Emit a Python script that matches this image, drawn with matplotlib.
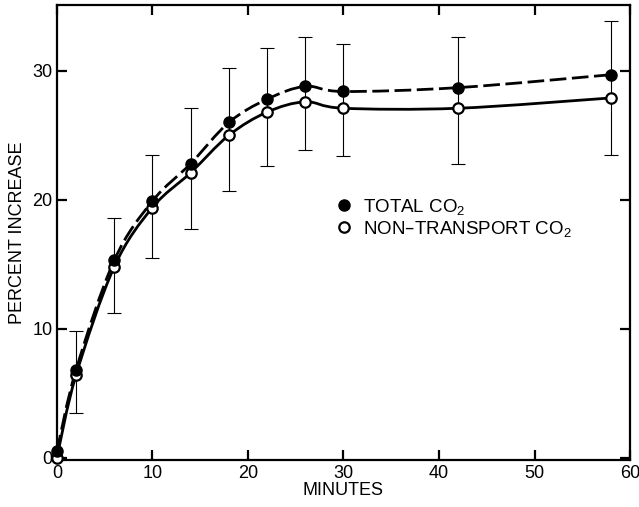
import matplotlib
matplotlib.use("Agg")
from matplotlib import pyplot as plt
from matplotlib.path import Path
from matplotlib.patches import PathPatch
import numpy as np

plt.rcParams["font.family"] = ["Liberation Sans", "DejaVu Sans"]
plt.rcParams["mathtext.default"] = "regular"

# sampling times (minutes)
minutes = [0, 2, 6, 10, 14, 18, 22, 26, 30, 42, 58]

# percent increase
total_co2 = [0.5, 6.8, 15.3, 19.9, 22.8, 26.0, 27.8, 28.8, 28.4, 28.7, 29.7]
non_transport_co2 = [0.0, 6.4, 14.8, 19.4, 22.1, 25.0, 26.8, 27.6, 27.1, 27.1, 27.9]

# error bar extents at each time after zero
err_minutes = [2, 6, 10, 14, 18, 22, 26, 30, 42, 58]
err_low = [3.5, 11.2, 15.5, 17.7, 20.7, 22.6, 23.9, 23.4, 22.8, 23.5]
err_high = [9.8, 18.6, 23.5, 27.1, 30.2, 31.8, 32.6, 32.1, 32.6, 33.9]

x_ticks = [0, 10, 20, 30, 40, 50, 60]
y_ticks = [0, 10, 20, 30]


def smooth_path(xs, ys):
    # cubic bezier through every point (catmull-rom tangents)
    p = np.column_stack([xs, ys]).astype(float)
    n = len(p)
    verts = [p[0]]
    codes = [Path.MOVETO]
    for i in range(n - 1):
        prev = p[max(i - 1, 0)]
        nxt = p[min(i + 2, n - 1)]
        c1 = p[i] + (p[i + 1] - prev) / 6
        c2 = p[i + 1] - (nxt - p[i]) / 6
        verts += [c1, c2, p[i + 1]]
        codes += [Path.CURVE4] * 3
    return Path(verts, codes)


fig = plt.figure(figsize=(6.39, 5.07), dpi=100)
ax = fig.add_axes([0.089, 0.092, 0.897, 0.898])

lo = np.array(err_low)
hi = np.array(err_high)
ax.errorbar(err_minutes, (lo + hi) / 2, yerr=(hi - lo) / 2, fmt="none",
            ecolor="black", elinewidth=0.8, capsize=5, capthick=0.8, zorder=1)

ax.add_patch(PathPatch(smooth_path(minutes, total_co2), fill=False,
                       ec="black", lw=2.0, ls=(0, (6, 2)), zorder=2,
                       clip_on=False))
ax.add_patch(PathPatch(smooth_path(minutes, non_transport_co2), fill=False,
                       ec="black", lw=2.0, zorder=2, clip_on=False))
ax.plot(minutes, total_co2, "o", color="black", ms=8, zorder=4,
        clip_on=False, label="TOTAL CO$_2$")
ax.plot(minutes, non_transport_co2, "o", mfc="white", mec="black", mew=1.6,
        ms=7.5, zorder=3, clip_on=False, label="NON\u2013TRANSPORT CO$_2$")

ax.set_xlim(0, 60)
ax.set_ylim(-0.2, 35.1)
ax.set_xticks(x_ticks)
ax.set_yticks(y_ticks)
ax.tick_params(direction="in", length=7, width=1.6, labelsize=13,
               top=True, right=True, pad=3)
for s in ax.spines.values():
    s.set_linewidth(1.6)

ax.set_xlabel("MINUTES", fontsize=13, labelpad=0)
ax.set_ylabel("PERCENT INCREASE", fontsize=13, labelpad=5)

ax.legend(loc="upper left", bbox_to_anchor=(0.475, 0.595), frameon=False,
          handlelength=0.8, handletextpad=0.6, labelspacing=0.1,
          fontsize=13.5, borderaxespad=0)

fig.savefig("out.png", dpi=100)
